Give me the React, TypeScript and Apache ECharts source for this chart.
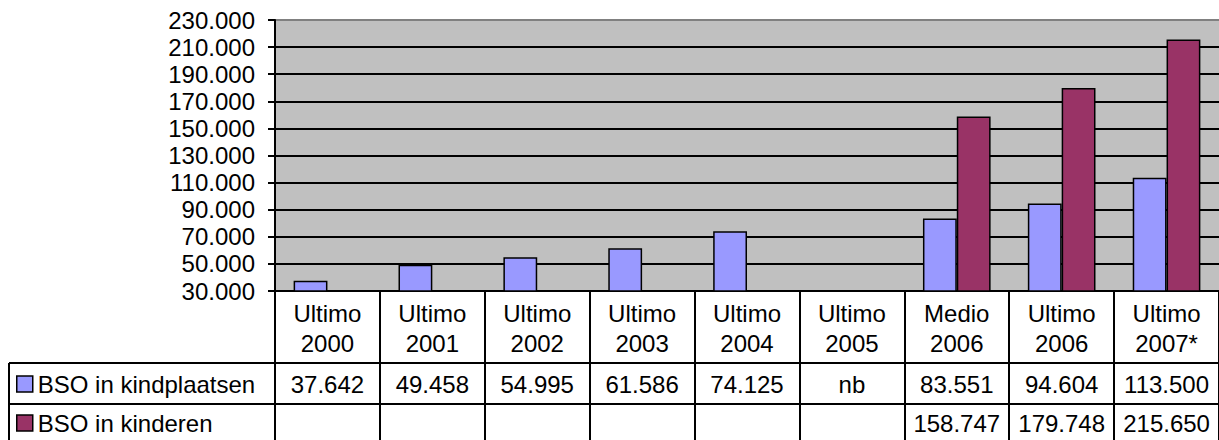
import React, { useEffect, useRef } from "react";
import * as echarts from "echarts";

// ---- Data ----
const PERIODS = ["Ultimo", "Ultimo", "Ultimo", "Ultimo", "Ultimo", "Ultimo", "Medio", "Ultimo", "Ultimo"];
const YEARS = ["2000", "2001", "2002", "2003", "2004", "2005", "2006", "2006", "2007*"];
const SERIES_NAMES = ["BSO in kindplaatsen", "BSO in kinderen"];
const KINDPLAATSEN: (number | null)[] = [37642, 49458, 54995, 61586, 74125, null, 83551, 94604, 113500];
const KINDEREN: (number | null)[] = [null, null, null, null, null, null, 158747, 179748, 215650];
const KINDPLAATSEN_MISSING = "nb";
const KINDEREN_MISSING = "";
const Y_MIN = 30000;
const Y_MAX = 230000;
const Y_STEP = 20000;

const COLORS = ["#9999FF", "#993366"];
const FONT = "'Liberation Sans', Arial, Helvetica, sans-serif";

const fmt = (n: number) => String(Math.round(n)).replace(/\B(?=(\d{3})+(?!\d))/g, ".");

const CATEGORIES = PERIODS.map((p, i) => p + "\n" + YEARS[i]);
const ROW1_TEXT = KINDPLAATSEN.map((v) => (v == null ? KINDPLAATSEN_MISSING : fmt(v)));
const ROW2_TEXT = KINDEREN.map((v) => (v == null ? KINDEREN_MISSING : fmt(v)));

// ---- Layout ----
const W = 1219;
const H = 440;
const GRID_LEFT = 275;
const GRID_TOP = 20;
const GRID_BOTTOM_Y = 291;
const GRID_WIDTH = 949;
const ROW1_Y = 363;
const ROW2_Y = 404;
const TABLE_LEFT = 9;

export default function App() {
  const ref = useRef<HTMLDivElement>(null);

  useEffect(() => {
    if (!ref.current) return;
    const chart = echarts.init(ref.current, undefined, { renderer: "svg" });
    const lineCount = Math.round((Y_MAX - Y_MIN) / Y_STEP) + 1;
    const splitColors = Array.from({ length: lineCount }, (_, i) => (i === lineCount - 1 ? "#808080" : "#000000"));
    const black = { color: "#000", width: 2 };
    const labelBase = { fontSize: 24, color: "#000", fontFamily: FONT };

    chart.setOption({
      animation: false,
      textStyle: { fontFamily: FONT },
      grid: {
        left: GRID_LEFT,
        top: GRID_TOP,
        width: GRID_WIDTH,
        height: GRID_BOTTOM_Y - GRID_TOP,
        show: true,
        backgroundColor: "#C0C0C0",
        borderWidth: 0,
        containLabel: false,
      },
      legend: {
        orient: "vertical",
        left: 16,
        top: 372,
        itemWidth: 16,
        itemHeight: 16,
        itemGap: 15,
        icon: "rect",
        padding: 0,
        selectedMode: false,
        data: SERIES_NAMES,
        itemStyle: { borderColor: "#000", borderWidth: 1.5 },
        textStyle: { ...labelBase, lineHeight: 24 },
      },
      xAxis: [
        {
          type: "category",
          data: CATEGORIES,
          position: "bottom",
          axisLine: { onZero: false, lineStyle: black },
          axisTick: { show: true, length: 160, lineStyle: black },
          axisLabel: { ...labelBase, interval: 0, margin: 7, lineHeight: 30 },
          splitLine: { show: false },
        },
        {
          type: "category",
          data: ROW1_TEXT,
          position: "bottom",
          offset: ROW1_Y - GRID_BOTTOM_Y,
          axisLine: { onZero: false, lineStyle: black },
          axisTick: { show: false },
          axisLabel: { ...labelBase, interval: 0, margin: 9, lineHeight: 24 },
        },
        {
          type: "category",
          data: ROW2_TEXT,
          position: "bottom",
          offset: ROW2_Y - GRID_BOTTOM_Y,
          axisLine: { onZero: false, lineStyle: black },
          axisTick: { show: false },
          axisLabel: { ...labelBase, interval: 0, margin: 7, lineHeight: 24 },
        },
      ],
      yAxis: [
        { type: "value", min: Y_MIN, max: Y_MAX, show: false },
        {
          type: "value",
          min: 0,
          max: Y_MAX - Y_MIN,
          interval: Y_STEP,
          position: "left",
          axisLine: { show: true, lineStyle: black },
          axisTick: { show: true, length: 7, lineStyle: black },
          axisLabel: { ...labelBase, margin: 20, formatter: (v: number) => fmt(v + Y_MIN) },
          splitLine: { show: true, lineStyle: { color: splitColors, width: 2 } },
        },
      ],
      series: [
        {
          type: "bar",
          name: SERIES_NAMES[0],
          data: KINDPLAATSEN,
          xAxisIndex: 0,
          yAxisIndex: 0,
          barGap: "0%",
          barCategoryGap: "35.5%",
          itemStyle: { color: COLORS[0], borderColor: "#000", borderWidth: 1.5 },
        },
        {
          type: "bar",
          name: SERIES_NAMES[1],
          data: KINDEREN,
          xAxisIndex: 0,
          yAxisIndex: 0,
          barGap: "0%",
          barCategoryGap: "35.5%",
          itemStyle: { color: COLORS[1], borderColor: "#000", borderWidth: 1.5 },
        },
      ],
      graphic: [
        { type: "line", shape: { x1: TABLE_LEFT, y1: ROW1_Y, x2: GRID_LEFT, y2: ROW1_Y }, style: { stroke: "#000", lineWidth: 2 } },
        { type: "line", shape: { x1: TABLE_LEFT, y1: ROW2_Y, x2: GRID_LEFT, y2: ROW2_Y }, style: { stroke: "#000", lineWidth: 2 } },
        { type: "line", shape: { x1: TABLE_LEFT, y1: ROW1_Y, x2: TABLE_LEFT, y2: H + 10 }, style: { stroke: "#000", lineWidth: 2 } },
      ],
    });
    return () => chart.dispose();
  }, []);

  return (
    <div
      ref={ref}
      style={{ position: "absolute", left: 0, top: 0, width: W, height: H, background: "#fff" }}
    />
  );
}
